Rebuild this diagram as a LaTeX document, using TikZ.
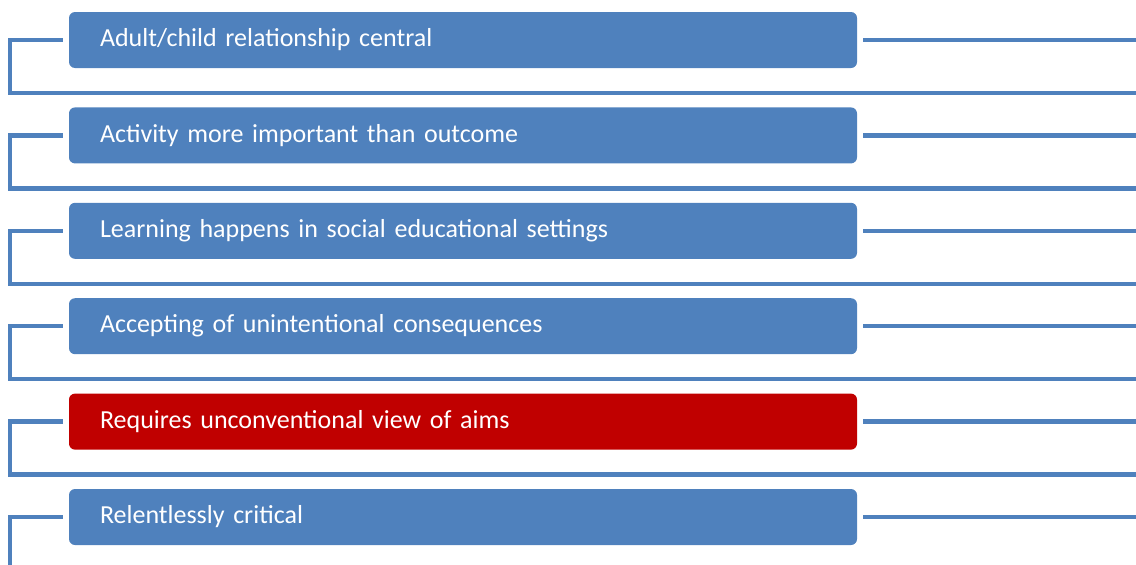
\documentclass[tikz,border=0pt]{standalone}
\usepackage{fontspec}
\setmainfont{Carlito}
\usetikzlibrary{positioning}
\definecolor{BarBlue}{RGB}{79,129,189}
\definecolor{BarRed}{RGB}{192,0,0}
\tikzset{
  item/.style={rounded corners=6pt,fill=BarBlue,draw=none,
               minimum width=788pt,minimum height=56pt,text width=726pt,
               inner xsep=31pt,align=left,text=white,
               font=\fontsize{26}{30}\selectfont},
  hot/.style={item,fill=BarRed},
  rail/.style={line width=4.5pt,BarBlue},
}

\begin{document}
\begin{tikzpicture}[x=1pt,y=1pt,node distance=39pt]
  \useasboundingbox (0,0) rectangle (1136,-565);
  \coordinate (lrim) at (10,0);
  \coordinate (rrim) at (1136,0);

  \node[item] at (463,-40) (rel) {Adult/child relationship central};
  \node[item,below=of rel] (act) {Activity more important than outcome};
  \node[item,below=of act] (learn) {Learning happens in social educational settings};
  \node[item,below=of learn] (accept) {Accepting of unintentional consequences};
  \node[hot,below=of accept] (aims) {Requires unconventional view of aims};
  \node[item,below=of aims] (crit) {Relentlessly critical};

  \foreach \n in {rel,act,learn,accept,aims}{
    \draw[rail] ([xshift=-6pt]\n.west) -- (\n.west -| lrim)
      -- ([yshift=-53pt]\n.west -| lrim) -- ([yshift=-53pt]\n.west -| rrim);
    \draw[rail] ([xshift=6pt]\n.east) -- (\n.east -| rrim);
  }
  \draw[rail] ([xshift=-6pt]crit.west) -- (crit.west -| lrim)
    -- ([yshift=-50pt]crit.west -| lrim);
  \draw[rail] ([xshift=6pt]crit.east) -- (crit.east -| rrim);

\end{tikzpicture}
\end{document}
